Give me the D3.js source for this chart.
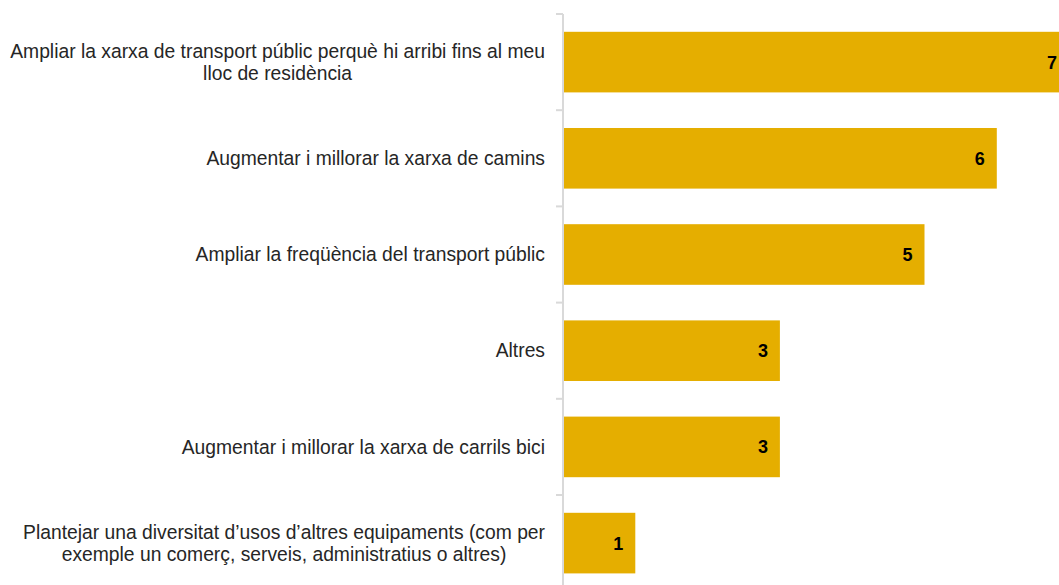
<!DOCTYPE html>
<html><head><meta charset="utf-8">
<script src="https://cdn.jsdelivr.net/npm/d3@7"></script>
<style>html,body{margin:0;padding:0;background:#fff;overflow:hidden}</style>
</head><body>
<svg id="chart" width="1059" height="585"></svg>
<script>
const categories = [
  ["Ampliar la xarxa de transport públic perquè hi arribi fins al meu", "lloc de residència"],
  ["Augmentar i millorar la xarxa de camins"],
  ["Ampliar la freqüència del transport públic"],
  ["Altres"],
  ["Augmentar i millorar la xarxa de carrils bici"],
  ["Plantejar una diversitat d’usos d’altres equipaments (com per", "exemple un comerç, serveis, administratius o altres)"]
];
const values = [7, 6, 5, 3, 3, 1];

const svg = d3.select("#chart");
const x0 = 563, unit = 72.3;
const x = d3.scaleLinear().domain([0, 7]).range([x0, x0 + 7 * unit]);
const keys = categories.map((d, i) => i);
const y = d3.scaleBand().domain(keys).range([14, 14 + 6 * 96.2]).paddingInner(0.37).paddingOuter(0.185);

const font = "Liberation Sans, Arial, sans-serif";

svg.append("g").selectAll("rect").data(values).join("rect")
  .attr("x", x(0)).attr("y", (d, i) => y(i))
  .attr("width", d => x(d) - x(0)).attr("height", y.bandwidth())
  .attr("fill", "#E5AE00");

// axis
const axis = d3.axisLeft(d3.scaleBand().domain(keys).range([14, 14 + 6 * 96.2]))
  .tickSize(0).tickFormat("");
const ag = svg.append("g").attr("transform", `translate(${x0},0)`).call(axis);
ag.select(".domain").attr("stroke", "#d9d9d9").attr("stroke-width", 2).attr("d", `M0,14V585`);
// boundary ticks
const bounds = d3.range(7).map(i => 14 + i * 96.2);
ag.selectAll(".bt").data(bounds).join("line").attr("class", "bt")
  .attr("x1", -7).attr("x2", 0).attr("y1", d => d).attr("y2", d => d)
  .attr("stroke", "#d9d9d9").attr("stroke-width", 2);

// category labels
const lab = svg.append("g").attr("font-family", font).attr("font-size", 19.3).attr("fill", "#262626");
categories.forEach((lines, i) => {
  const cy = y(i) + y.bandwidth() / 2;
  const t = lab.append("text").attr("text-anchor", "middle");
  const lh = 22;
  lines.forEach((ln, j) => {
    t.append("tspan").attr("x", 0).attr("y", cy + (j - (lines.length - 1) / 2) * lh).attr("dy", "0.35em").text(ln);
  });
  let w = 0;
  t.selectAll("tspan").each(function () { w = Math.max(w, this.getComputedTextLength()); });
  t.selectAll("tspan").attr("x", 545 - w / 2);
});

// value labels
svg.append("g").selectAll("text").data(values).join("text")
  .attr("x", d => x(d) - 12).attr("y", (d, i) => y(i) + y.bandwidth() / 2).attr("dy", "0.36em")
  .attr("text-anchor", "end").attr("font-family", font).attr("font-weight", "bold").attr("font-size", 18)
  .attr("fill", "#000").text(d => d);
</script>
</body></html>
